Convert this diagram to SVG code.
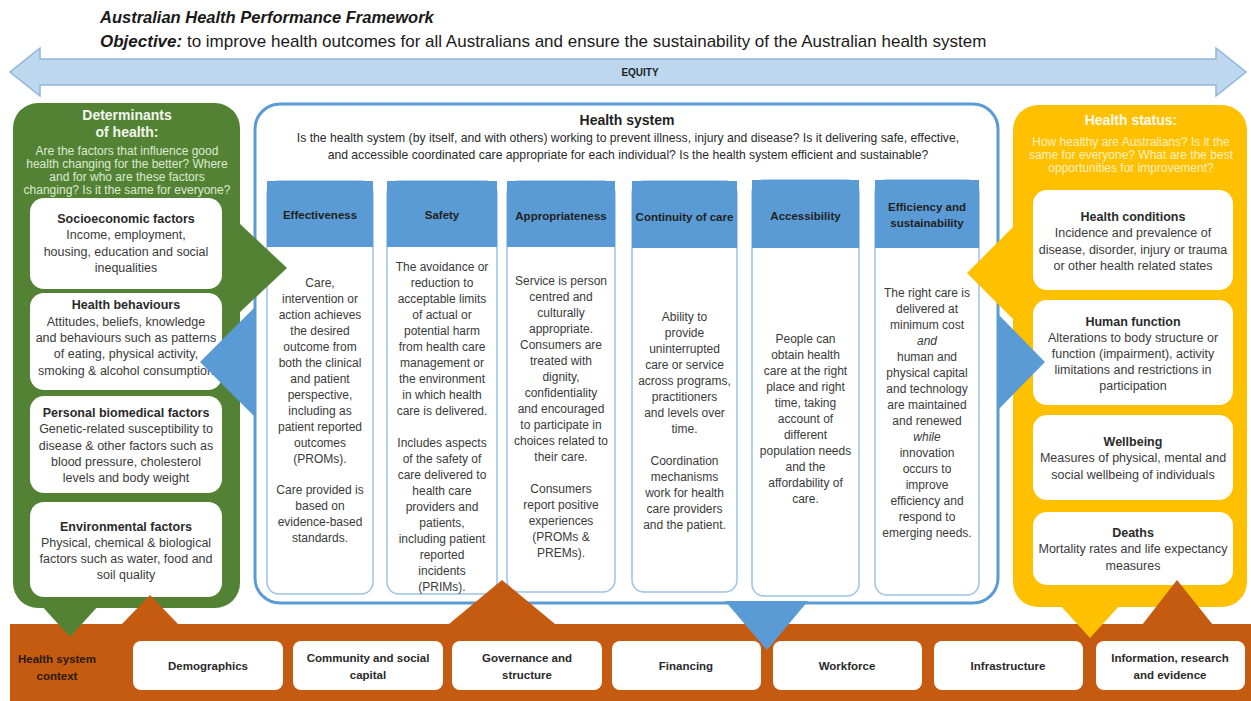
<svg xmlns="http://www.w3.org/2000/svg" width="1251" height="701" viewBox="0 0 1251 701">
<style>
text{font-family:"Liberation Sans",Arial,sans-serif;}
.c{text-anchor:middle;}
.body{font-size:12px;fill:#3a3a3a;text-anchor:middle;}
.box{font-size:12.5px;fill:#3a3a3a;text-anchor:middle;}
.boxt{font-size:12.5px;font-weight:bold;fill:#2a2a2a;text-anchor:middle;}
.hdr{font-size:11.5px;font-weight:bold;fill:#1f1f1f;text-anchor:middle;}
.wb{fill:#fff;}
.colbody{fill:#fff;stroke:#9dc3e6;stroke-width:1.5;}
.colhead{fill:#5b9bd5;}
.ctx{fill:#fff;}
.ctxt{font-size:11.5px;font-weight:bold;fill:#2a2a2a;text-anchor:middle;}
</style>

<rect width="1251" height="701" fill="#fff"/>

<g id="title">
<text x="100" y="23" font-size="16.5" font-weight="bold" font-style="italic" fill="#1a1a1a">Australian Health Performance Framework</text>
<text x="100" y="47" font-size="17" fill="#1a1a1a"><tspan font-weight="bold" font-style="italic">Objective:</tspan> to improve health outcomes for all Australians and ensure the sustainability of the Australian health system</text>
</g>

<g id="equity">
<path d="M10,72 L40,48 L40,59 L1216,59 L1216,48 L1246,72 L1216,96 L1216,85 L40,85 L40,96 Z" fill="#bdd7ee" stroke="#8fb4d9" stroke-width="1.5"/>
<text x="640" y="76" class="c" font-size="10" font-weight="bold" fill="#222">EQUITY</text>
</g>

<g id="context-band">
<rect x="10" y="624" width="1241" height="77" fill="#c55a11"/>
<text x="57" y="663" class="c" font-size="11.5" font-weight="bold" fill="#2a1a0a">Health system</text>
<text x="57" y="680" class="c" font-size="11.5" font-weight="bold" fill="#2a1a0a">context</text>
</g>

<g id="determinants">
<rect x="13" y="103" width="227" height="505" rx="25" fill="#548235"/>
<text x="127" y="120" class="c" font-size="14" font-weight="bold" fill="#f2f7ee">Determinants</text>
<text x="127" y="137" class="c" font-size="14" font-weight="bold" fill="#f2f7ee">of health:</text>
<g font-size="12" fill="#dcead0" text-anchor="middle">
<text x="127" y="155">Are the factors that influence good</text>
<text x="127" y="168">health changing for the better? Where</text>
<text x="127" y="181">and for who are these factors</text>
<text x="127" y="194">changing? Is it the same for everyone?</text>
</g>
</g>

<g id="socioeconomic">
<rect x="30" y="198" width="192" height="91" rx="14" class="wb"/>
<text x="126" y="223" class="boxt">Socioeconomic factors</text>
<text x="126" y="239" class="box">Income, employment,</text>
<text x="126" y="256" class="box">housing, education and social</text>
<text x="126" y="272" class="box">inequalities</text>
</g>

<g id="health-behaviours">
<rect x="30" y="293" width="192" height="97" rx="14" class="wb"/>
<text x="126" y="309" class="boxt">Health behaviours</text>
<text x="126" y="326" class="box">Attitudes, beliefs, knowledge</text>
<text x="126" y="342" class="box">and behaviours such as patterns</text>
<text x="126" y="358" class="box">of eating, physical activity,</text>
<text x="126" y="375" class="box">smoking &amp; alcohol consumption</text>
</g>

<g id="personal-biomedical">
<rect x="30" y="396" width="192" height="97" rx="14" class="wb"/>
<text x="126" y="417" class="boxt">Personal biomedical factors</text>
<text x="126" y="433" class="box">Genetic-related susceptibility to</text>
<text x="126" y="450" class="box">disease &amp; other factors such as</text>
<text x="126" y="466" class="box">blood pressure, cholesterol</text>
<text x="126" y="482" class="box">levels and body weight</text>
</g>

<g id="environmental">
<rect x="30" y="502" width="192" height="95" rx="14" class="wb"/>
<text x="126" y="531" class="boxt">Environmental factors</text>
<text x="126" y="547" class="box">Physical, chemical &amp; biological</text>
<text x="126" y="563" class="box">factors such as water, food and</text>
<text x="126" y="579" class="box">soil quality</text>
</g>

<g id="health-system">
<rect x="255" y="104" width="743" height="499" rx="25" fill="#fff" stroke="#5b9bd5" stroke-width="3"/>
<text x="627" y="125" class="c" font-size="14" font-weight="bold" fill="#1f1f1f">Health system</text>
<text x="628" y="142" class="c" font-size="12.2" fill="#2a2a2a">Is the health system (by itself, and with others) working to prevent illness, injury and disease? Is it delivering safe, effective,</text>
<text x="628" y="159" class="c" font-size="12.2" fill="#2a2a2a">and accessible coordinated care appropriate for each individual?  Is the health system efficient and sustainable?</text>
</g>

<g id="effectiveness">
<rect x="267" y="181" width="106" height="413" rx="12" class="colbody"/>
<rect x="267" y="181" width="106" height="66" class="colhead"/>
<text x="320" y="219" class="hdr">Effectiveness</text>
<text class="body" x="320" y="287"><tspan x="320">Care,</tspan><tspan x="320" dy="16">intervention or</tspan><tspan x="320" dy="16">action achieves</tspan><tspan x="320" dy="16">the desired</tspan><tspan x="320" dy="16">outcome from</tspan><tspan x="320" dy="16">both the clinical</tspan><tspan x="320" dy="16">and patient</tspan><tspan x="320" dy="16">perspective,</tspan><tspan x="320" dy="16">including as</tspan><tspan x="320" dy="16">patient reported</tspan><tspan x="320" dy="16">outcomes</tspan><tspan x="320" dy="16">(PROMs).</tspan><tspan x="320" dy="31">Care provided is</tspan><tspan x="320" dy="16">based on</tspan><tspan x="320" dy="16">evidence-based</tspan><tspan x="320" dy="16">standards.</tspan></text>
</g>

<g id="safety">
<rect x="387" y="181" width="110" height="413" rx="12" class="colbody"/>
<rect x="387" y="181" width="110" height="66" class="colhead"/>
<text x="442" y="219" class="hdr">Safety</text>
<text class="body" x="442" y="271"><tspan x="442">The avoidance or</tspan><tspan x="442" dy="16">reduction to</tspan><tspan x="442" dy="16">acceptable limits</tspan><tspan x="442" dy="16">of actual or</tspan><tspan x="442" dy="16">potential harm</tspan><tspan x="442" dy="16">from health care</tspan><tspan x="442" dy="16">management or</tspan><tspan x="442" dy="16">the environment</tspan><tspan x="442" dy="16">in which health</tspan><tspan x="442" dy="16">care is delivered.</tspan><tspan x="442" dy="32">Includes aspects</tspan><tspan x="442" dy="16">of the safety of</tspan><tspan x="442" dy="16">care delivered to</tspan><tspan x="442" dy="16">health care</tspan><tspan x="442" dy="16">providers and</tspan><tspan x="442" dy="16">patients,</tspan><tspan x="442" dy="16">including patient</tspan><tspan x="442" dy="16">reported</tspan><tspan x="442" dy="16">incidents</tspan><tspan x="442" dy="16">(PRIMs).</tspan></text>
</g>

<g id="appropriateness">
<rect x="507" y="181" width="108" height="411" rx="12" class="colbody"/>
<rect x="507" y="181" width="108" height="66" class="colhead"/>
<text x="561" y="220" class="hdr">Appropriateness</text>
<text class="body" x="561" y="285"><tspan x="561">Service is person</tspan><tspan x="561" dy="16">centred and</tspan><tspan x="561" dy="16">culturally</tspan><tspan x="561" dy="16">appropriate.</tspan><tspan x="561" dy="16">Consumers are</tspan><tspan x="561" dy="16">treated with</tspan><tspan x="561" dy="16">dignity,</tspan><tspan x="561" dy="16">confidentiality</tspan><tspan x="561" dy="16">and encouraged</tspan><tspan x="561" dy="16">to participate in</tspan><tspan x="561" dy="16">choices related to</tspan><tspan x="561" dy="16">their care.</tspan><tspan x="561" dy="32">Consumers</tspan><tspan x="561" dy="16">report positive</tspan><tspan x="561" dy="16">experiences</tspan><tspan x="561" dy="16">(PROMs &amp;</tspan><tspan x="561" dy="16">PREMs).</tspan></text>
</g>

<g id="continuity">
<rect x="632" y="181" width="105" height="411" rx="12" class="colbody"/>
<rect x="632" y="181" width="105" height="67" class="colhead"/>
<text x="684.5" y="221" class="hdr">Continuity of care</text>
<text class="body" x="684.5" y="321"><tspan x="684.5">Ability to</tspan><tspan x="684.5" dy="16">provide</tspan><tspan x="684.5" dy="16">uninterrupted</tspan><tspan x="684.5" dy="16">care or service</tspan><tspan x="684.5" dy="16">across programs,</tspan><tspan x="684.5" dy="16">practitioners</tspan><tspan x="684.5" dy="16">and levels over</tspan><tspan x="684.5" dy="16">time.</tspan><tspan x="684.5" dy="32">Coordination</tspan><tspan x="684.5" dy="16">mechanisms</tspan><tspan x="684.5" dy="16">work for health</tspan><tspan x="684.5" dy="16">care providers</tspan><tspan x="684.5" dy="16">and the patient.</tspan></text>
</g>

<g id="accessibility">
<rect x="752" y="180" width="107" height="416" rx="12" class="colbody"/>
<rect x="752" y="180" width="107" height="68" class="colhead"/>
<text x="805.5" y="220" class="hdr">Accessibility</text>
<text class="body" x="805.5" y="343"><tspan x="805.5">People can</tspan><tspan x="805.5" dy="16">obtain health</tspan><tspan x="805.5" dy="16">care at the right</tspan><tspan x="805.5" dy="16">place and right</tspan><tspan x="805.5" dy="16">time, taking</tspan><tspan x="805.5" dy="16">account of</tspan><tspan x="805.5" dy="16">different</tspan><tspan x="805.5" dy="16">population needs</tspan><tspan x="805.5" dy="16">and the</tspan><tspan x="805.5" dy="16">affordability of</tspan><tspan x="805.5" dy="16">care.</tspan></text>
</g>

<g id="efficiency">
<rect x="875" y="180" width="104" height="415" rx="12" class="colbody"/>
<rect x="875" y="180" width="104" height="68" class="colhead"/>
<text x="927" y="211" class="hdr">Efficiency and</text>
<text x="927" y="227" class="hdr">sustainability</text>
<text class="body" x="927" y="297"><tspan x="927">The right care is</tspan><tspan x="927" dy="16">delivered at</tspan><tspan x="927" dy="16">minimum cost</tspan><tspan x="927" dy="16" font-style="italic">and</tspan><tspan x="927" dy="16">human and</tspan><tspan x="927" dy="16">physical capital</tspan><tspan x="927" dy="16">and technology</tspan><tspan x="927" dy="16">are maintained</tspan><tspan x="927" dy="16">and renewed</tspan><tspan x="927" dy="16" font-style="italic">while</tspan><tspan x="927" dy="16">innovation</tspan><tspan x="927" dy="16">occurs to</tspan><tspan x="927" dy="16">improve</tspan><tspan x="927" dy="16">efficiency and</tspan><tspan x="927" dy="16">respond to</tspan><tspan x="927" dy="16">emerging needs.</tspan></text>
</g>

<g id="health-status">
<rect x="1013" y="105" width="234" height="502" rx="25" fill="#ffc000"/>
<text x="1131" y="125" class="c" font-size="14" font-weight="bold" fill="#fffaf0">Health status:</text>
<g font-size="12" fill="#fff1c4" text-anchor="middle">
<text x="1131" y="146">How healthy are Australians? Is it the</text>
<text x="1131" y="159">same for everyone? What are the best</text>
<text x="1131" y="172">opportunities for improvement?</text>
</g>
</g>

<g id="health-conditions">
<rect x="1033" y="190" width="200" height="100" rx="14" class="wb"/>
<text x="1133" y="221" class="boxt">Health conditions</text>
<text x="1133" y="237" class="box">Incidence and prevalence of</text>
<text x="1133" y="254" class="box">disease, disorder, injury or trauma</text>
<text x="1133" y="270" class="box">or other health related states</text>
</g>

<g id="human-function">
<rect x="1033" y="300" width="200" height="105" rx="14" class="wb"/>
<text x="1133" y="326" class="boxt">Human function</text>
<text x="1133" y="342" class="box">Alterations to body structure or</text>
<text x="1133" y="358" class="box">function (impairment), activity</text>
<text x="1133" y="374" class="box">limitations and restrictions in</text>
<text x="1133" y="390" class="box">participation</text>
</g>

<g id="wellbeing">
<rect x="1033" y="415" width="200" height="85" rx="14" class="wb"/>
<text x="1133" y="446" class="boxt">Wellbeing</text>
<text x="1133" y="462" class="box">Measures of physical, mental and</text>
<text x="1133" y="479" class="box">social wellbeing of individuals</text>
</g>

<g id="deaths">
<rect x="1033" y="512" width="200" height="73" rx="14" class="wb"/>
<text x="1133" y="537" class="boxt">Deaths</text>
<text x="1133" y="553" class="box">Mortality rates and life expectancy</text>
<text x="1133" y="570" class="box">measures</text>
</g>

<g id="connectors">
<polygon points="238,222 287,268 238,314" fill="#548235"/>
<polygon points="256,306 200,362 256,418" fill="#5b9bd5"/>
<polygon points="1014,226 967,273 1014,320" fill="#ffc000"/>
<polygon points="998,314 1045,362 998,410" fill="#5b9bd5"/>
<polygon points="122,624 150,595 178,624" fill="#c55a11"/>
<polygon points="449,624 502,580 555,624" fill="#c55a11"/>
<polygon points="1142,625 1177,580 1213,625" fill="#c55a11"/>
<polygon points="40,604 100,604 70,637" fill="#548235"/>
<polygon points="1060,605 1120,605 1090,638" fill="#ffc000"/>
<polygon points="725,601 808,601 767,650" fill="#5b9bd5"/>
</g>

<g id="demographics"><rect x="133" y="641" width="150" height="49" rx="8" class="ctx"/><text x="208" y="670" class="ctxt">Demographics</text></g>
<g id="community"><rect x="293" y="641" width="150" height="49" rx="8" class="ctx"/><text x="368" y="662" class="ctxt">Community and social</text><text x="368" y="679" class="ctxt">capital</text></g>
<g id="governance"><rect x="452" y="641" width="150" height="49" rx="8" class="ctx"/><text x="527" y="662" class="ctxt">Governance and</text><text x="527" y="679" class="ctxt">structure</text></g>
<g id="financing"><rect x="612" y="641" width="149" height="49" rx="8" class="ctx"/><text x="686" y="670" class="ctxt">Financing</text></g>
<g id="workforce"><rect x="773" y="641" width="149" height="49" rx="8" class="ctx"/><text x="847" y="670" class="ctxt">Workforce</text></g>
<g id="infrastructure"><rect x="934" y="641" width="149" height="49" rx="8" class="ctx"/><text x="1008" y="670" class="ctxt">Infrastructure</text></g>
<g id="information"><rect x="1096" y="641" width="149" height="49" rx="8" class="ctx"/><text x="1170" y="662" class="ctxt">Information, research</text><text x="1170" y="679" class="ctxt">and evidence</text></g>
</svg>
